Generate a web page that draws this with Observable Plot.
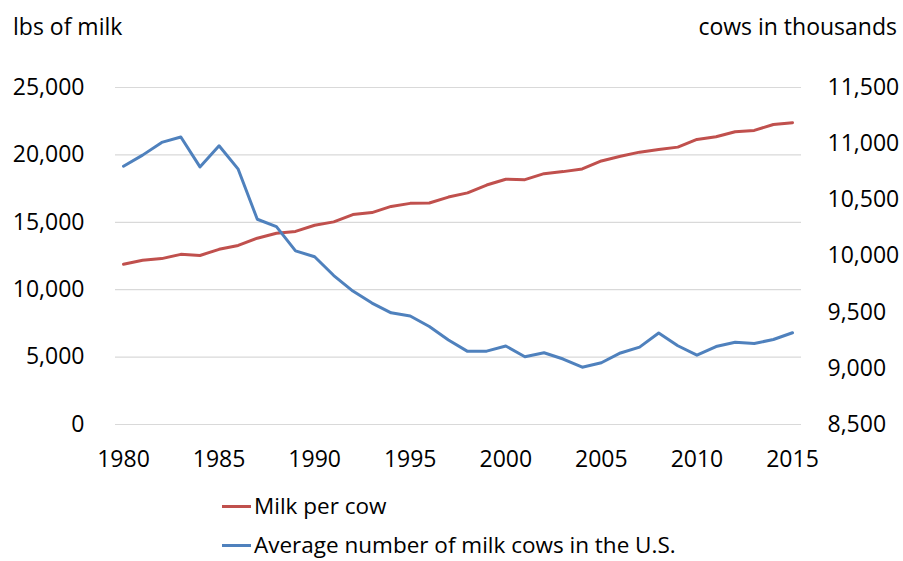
<!DOCTYPE html>
<html>
<head>
<meta charset="utf-8">
<script src="https://cdn.jsdelivr.net/npm/d3@7"></script>
<script src="https://cdn.jsdelivr.net/npm/@observablehq/plot@0.6"></script>
<style>
  html, body { margin: 0; padding: 0; background: #fff; }
  #wrap { width: 903px; height: 561px; position: relative; font-family: "Open Sans", sans-serif; color: #000; overflow: hidden; }
  #header { height: 39px; padding-top: 11px; display: flex; justify-content: space-between; font-size: 23px; line-height: 31px; }
  #header .l { padding-left: 13px; }
  #header .r { padding-right: 6px; }
  #legend { padding-top: 11px; font-size: 22.5px; }
  #legend .row { height: 30px; line-height: 30px; margin-bottom: 9px; display: flex; align-items: center; padding-left: 222px; }
  #legend .sw { width: 29px; height: 3px; margin-right: 3px; }
  svg { display: block; }
</style>
</head>
<body>
<div id="wrap">
  <div id="header"><span class="l">lbs of milk</span><span class="r">cows in thousands</span></div>
  <div id="chart"></div>
  <div id="legend"></div>
</div>
<script>
const years = [1980,1981,1982,1983,1984,1985,1986,1987,1988,1989,1990,1991,1992,1993,1994,1995,1996,1997,1998,1999,2000,2001,2002,2003,2004,2005,2006,2007,2008,2009,2010,2011,2012,2013,2014,2015];
const milkPerCow = [11891,12183,12306,12622,12541,12994,13285,13819,14185,14323,14782,15031,15570,15722,16179,16405,16433,16871,17185,17763,18197,18162,18608,18760,18960,19550,19895,20204,20396,20576,21149,21345,21722,21816,22259,22393];
const cowsThousands = [10799,10898,11011,11059,10793,10981,10773,10327,10262,10046,9993,9826,9688,9581,9494,9466,9372,9252,9151,9153,9199,9103,9139,9083,9010,9050,9137,9189,9315,9201,9117,9194,9232,9221,9257,9317];
const leftTicks = [0,5000,10000,15000,20000,25000];
const rightTicks = [8500,9000,9500,10000,10500,11000,11500];
const xTicks = [1980,1985,1990,1995,2000,2005,2010,2015];
const seriesNames = ["Milk per cow", "Average number of milk cows in the U.S."];
const seriesColors = ["#C0504D", "#4F81BD"];

const data = years.map((y, i) => ({year: y, milk: milkPerCow[i], cows: cowsThousands[i]}));
const toLeft = d3.scaleLinear().domain([8500, 11500]).range([0, 25000]);
const fmt = d3.format(",");

const chart = Plot.plot({
  width: 903,
  height: 430,
  marginTop: 37,
  marginBottom: 56,
  marginLeft: 115,
  marginRight: 102,
  style: {fontFamily: "Open Sans, sans-serif", fontSize: "23px", color: "#000", background: "#fff"},
  x: {domain: [1980, 2015], insetLeft: 8, insetRight: 9},
  y: {domain: [0, 25000]},
  marks: [
    Plot.ruleY(leftTicks, {stroke: "#d9d9d9", strokeWidth: 1.2}),
    Plot.axisY({ticks: leftTicks, tickSize: 0, tickPadding: 31, tickFormat: fmt, label: null, fill: "#000"}),
    Plot.axisY({anchor: "right", ticks: rightTicks.map(toLeft), tickSize: 0, tickPadding: 26,
      tickFormat: d => fmt(Math.round(toLeft.invert(d))), label: null, fill: "#000"}),
    Plot.axisX({ticks: xTicks, tickSize: 0, tickPadding: 26, tickFormat: d => String(d), label: null, fill: "#000"}),
    Plot.line(data, {x: "year", y: "milk", stroke: seriesColors[0], strokeWidth: 3}),
    Plot.line(data, {x: "year", y: d => toLeft(d.cows), stroke: seriesColors[1], strokeWidth: 3})
  ]
});
document.getElementById("chart").appendChild(chart);

const legend = document.getElementById("legend");
seriesNames.forEach((name, i) => {
  const row = document.createElement("div");
  row.className = "row";
  const sw = document.createElement("span");
  sw.className = "sw";
  sw.style.background = seriesColors[i];
  const t = document.createElement("span");
  t.textContent = name;
  row.appendChild(sw);
  row.appendChild(t);
  legend.appendChild(row);
});
</script>
</body>
</html>
